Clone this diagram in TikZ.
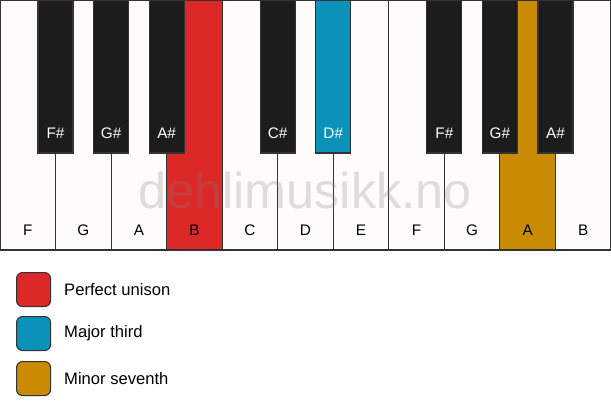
\documentclass[tikz,border=0pt]{standalone}
\usepackage{fontspec}
\setmainfont{Liberation Sans}
\definecolor{keywhite}{HTML}{FDFCF8}
\definecolor{keyblack}{HTML}{1C1C1C}
\definecolor{keyline}{HTML}{333333}
\definecolor{unisonred}{HTML}{DD2828}
\definecolor{thirdblue}{HTML}{0A92B8}
\definecolor{seventhgold}{HTML}{C98A04}
\tikzset{
  whitekey/.style={draw=keyline, line width=1.1pt, fill=keywhite, minimum width=55.545pt, minimum height=250pt, anchor=north west, inner sep=0pt, outer sep=0pt},
  blackkey/.style={draw=keyline, line width=1.1pt, fill=keyblack, minimum width=35pt, minimum height=153pt, anchor=north, inner sep=0pt, outer sep=0pt},
  wlabel/.style={font=\fontsize{15.3}{15.3}\selectfont, text=black, inner sep=0pt},
  blabel/.style={font=\fontsize{15.3}{15.3}\selectfont, text=white, inner sep=0pt},
  legbox/.style={draw=keyline, line width=1.1pt, rounded corners=6pt, minimum width=34pt, minimum height=34pt, inner sep=0pt, anchor=north west},
  legtext/.style={font=\fontsize{16.6}{16.6}\selectfont, anchor=west, inner sep=0pt},
}
\begin{document}
\begin{tikzpicture}[x=1pt,y=-1pt]
\useasboundingbox (0,0) rectangle (611,417);
% white keys
\foreach \i/\n/\c in {0/F/keywhite,1/G/keywhite,2/A/keywhite,3/B/unisonred,4/C/keywhite,5/D/keywhite,6/E/keywhite,7/F/keywhite,8/G/keywhite,9/A/seventhgold,10/B/keywhite}{
  \node[whitekey, fill=\c] (w\i) at ({\i*55.545},0) {};
  \node[wlabel] (wl\i) at ({\i*55.545+27.77},230.5) {\n};
}
% watermark
\node[font=\fontsize{50.3}{50.3}\selectfont, text=gray, opacity=0.25, anchor=base, inner sep=0pt] (wm) at (305,208) {dehlimusikk.no};
% black keys
\foreach \i/\n/\c in {1/F\#/keyblack,2/G\#/keyblack,3/A\#/keyblack,5/C\#/keyblack,6/D\#/thirdblue,8/F\#/keyblack,9/G\#/keyblack,10/A\#/keyblack}{
  \node[blackkey, fill=\c] (b\i) at ({\i*55.545},0) {};
  \node[blabel] (bl\i) at ({\i*55.545},133.5) {\n};
}
% legend
\node[legbox, fill=unisonred] (l1) at (16,272) {};
\node[legtext] (t1) at (64,289.5) {Perfect unison};
\node[legbox, fill=thirdblue] (l2) at (16,316) {};
\node[legtext] (t2) at (64,333.5) {Major third};
\node[legbox, fill=seventhgold] (l3) at (16,361) {};
\node[legtext] (t3) at (64,378.5) {Minor seventh};
\end{tikzpicture}
\end{document}
